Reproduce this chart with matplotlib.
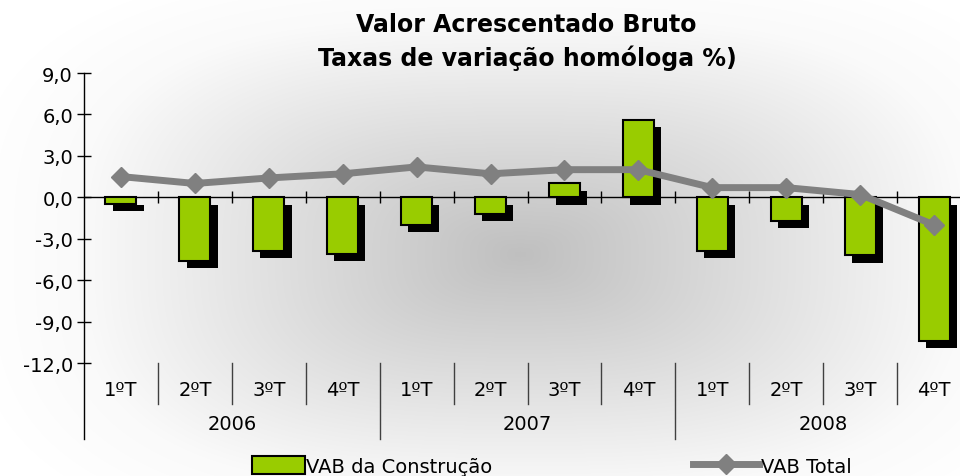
import numpy as np
import matplotlib
matplotlib.use("Agg")
import matplotlib.pyplot as plt
import matplotlib.patheffects as pe
from matplotlib.lines import Line2D
from matplotlib.patches import Patch
import matplotlib.transforms as mtransforms

# ---- data ----
quarters = ["1ºT", "2ºT", "3ºT", "4ºT"] * 3
years = ["2006", "2007", "2008"]
vab_construcao = [-0.5, -4.6, -3.9, -4.1, -2.0, -1.2, 1.0, 5.6, -3.9, -1.7, -4.2, -10.4]
vab_total = [1.5, 1.0, 1.4, 1.7, 2.2, 1.7, 2.0, 2.0, 0.7, 0.7, 0.2, -2.0]
yticks = [9, 6, 3, 0, -3, -6, -9, -12]
ytick_labels = ["9,0", "6,0", "3,0", "0,0", "-3,0", "-6,0", "-9,0", "-12,0"]
title_lines = ["Valor Acrescentado Bruto", "Taxas de variação homóloga %)"]
series_names = ["VAB da Construção", "VAB Total"]

W, H = 960, 477
fig = plt.figure(figsize=(W / 100, H / 100), dpi=100)
plt.rcParams["font.family"] = ["DejaVu Sans"]

# ---- background gradient (from centre) ----
bg = fig.add_axes([0, 0, 1, 1], zorder=-10)
yy, xx = np.mgrid[0:H, 0:W]
cx, cy, rx, ry, p = 520.0, 255.0, 440.0, 235.0, 3.0
d = ((np.abs(xx - cx) / rx) ** p + (np.abs(yy - cy) / ry) ** p) ** (1 / p)
g = 0.75 + 0.23 * np.clip(d, 0, 1)
g = np.where(d > 1, np.minimum(0.98 + 0.02 * np.clip(d - 1, 0, 1) * 4, 1.0), g)
bg.imshow(np.dstack([g, g, g]), aspect="auto", extent=(0, W, H, 0), interpolation="bilinear")
bg.set_axis_off()

# ---- main axes ----
left_px, right_px, top_px, bot_px = 84, 971, 74, 364
ax = fig.add_axes([left_px / W, 1 - bot_px / H, (right_px - left_px) / W, (bot_px - top_px) / H])
ax.set_facecolor("none")
n = len(quarters)
x = np.arange(n)
ax.set_xlim(-0.5, n - 0.5)
ax.set_ylim(-12, 9)
for s in ax.spines.values():
    s.set_visible(False)

bars = ax.bar(x, vab_construcao, width=0.42, color="#99CC00", edgecolor="black",
              linewidth=1.5, zorder=3, label=series_names[0])
for b in bars:
    b.set_path_effects([pe.SimplePatchShadow(offset=(5.2, -5.2), shadow_rgbFace="black", alpha=1.0),
                        pe.Normal()])

ax.plot(x, vab_total, color="#808080", lw=5, marker="D", markersize=10,
        markeredgecolor="#808080", zorder=5, solid_joinstyle="round")

# zero line with crossing tick marks
ax.axhline(0, color="black", lw=1, zorder=2)
bounds = np.arange(n - 1) + 0.5
ax.plot(bounds, np.zeros_like(bounds), ls="none", marker="|", markersize=9,
        color="black", markeredgewidth=1, zorder=2)

# y axis
ax.set_yticks(yticks)
ax.set_yticklabels(ytick_labels, fontsize=14)
ax.tick_params(axis="y", direction="inout", length=10, width=1, pad=3)
ax.set_xticks([])
trans = mtransforms.blended_transform_factory(ax.transData, ax.transAxes)
axis_h = bot_px - top_px
ax.plot([0, 0], [1, -(440 - bot_px) / axis_h], transform=ax.transAxes, color="black",
        lw=1, clip_on=False)

# category labels
q_y = -(391 - bot_px) / axis_h
y_y = -(425 - bot_px) / axis_h
q_sep = -(405 - bot_px) / axis_h
y_sep = -(440 - bot_px) / axis_h
for i, q in enumerate(quarters):
    ax.text(x[i], q_y, q, transform=trans, ha="center", va="center", fontsize=14)
for k, yr in enumerate(years):
    ax.text(4 * k + 1.5, y_y, yr, transform=trans, ha="center", va="center", fontsize=14)
for b in bounds:
    is_year = (b + 0.5) % 4 == 0
    ax.plot([b, b], [0, y_sep if is_year else q_sep], transform=trans, color="#404040",
            lw=1, clip_on=False)

# title
fig.text(526 / W, 1 - 25 / H, title_lines[0], ha="center", va="center", fontsize=17, fontweight="bold")
fig.text(527 / W, 1 - 58 / H, title_lines[1], ha="center", va="center", fontsize=17, fontweight="bold")

# legends
h1 = Patch(facecolor="#99CC00", edgecolor="black", linewidth=1.5)
h2 = Line2D([], [], color="#808080", lw=5, marker="D", markersize=10, markeredgecolor="#808080")
fig.legend([h1], [series_names[0]], loc="center left", bbox_to_anchor=(252 / W, 1 - 467 / H),
           frameon=False, fontsize=14, handlelength=2.7, handleheight=1.0, handletextpad=0.1,
           borderpad=0, borderaxespad=0)
fig.legend([h2], [series_names[1]], loc="center left", bbox_to_anchor=(693 / W, 1 - 467 / H),
           frameon=False, fontsize=14, handlelength=3.4, handleheight=1.0, handletextpad=0.1,
           borderpad=0, borderaxespad=0)

fig.savefig("out.png", dpi=100)
